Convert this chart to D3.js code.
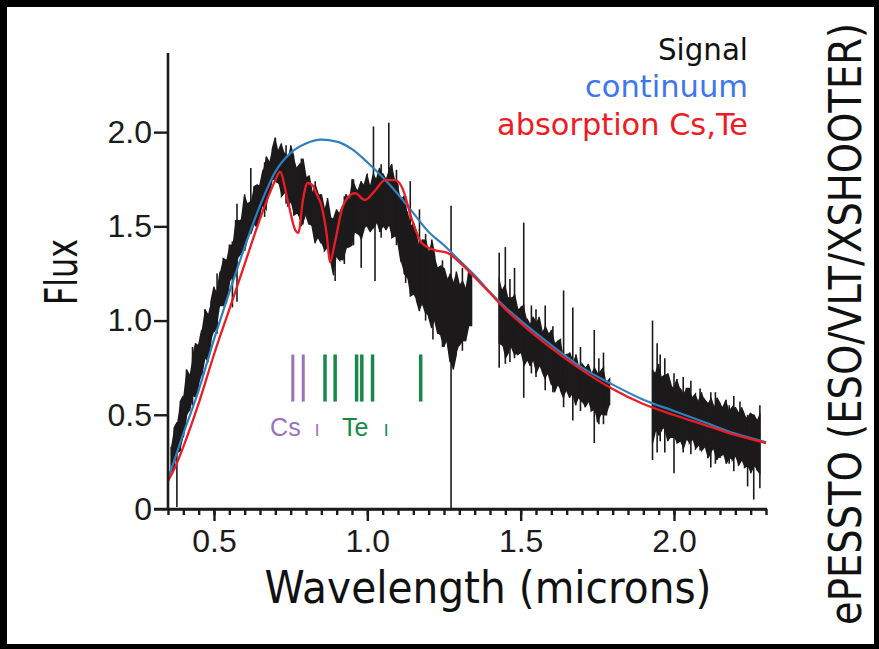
<!DOCTYPE html>
<html>
<head>
<meta charset="utf-8">
<script src="https://cdn.jsdelivr.net/npm/d3@7"></script>
<style>
  html, body { margin: 0; padding: 0; background: #000; }
  svg { display: block; }
</style>
</head>
<body>
<svg id="chart" width="879" height="649"></svg>
<script>
// ---- Observed spectrum: upper/lower envelope of the noisy signal, sampled every 0.01 micron ----
const sampleStep = 0.01;
const segStarts = [0.36, 1.43, 1.93];

const sig1Hi = [
  0.33,0.43,0.46,0.57,0.60,0.74,0.71,0.80,0.88,0.87,
  0.95,1.06,1.03,1.10,1.18,1.15,1.26,1.33,1.32,1.40,
  1.40,1.53,1.53,1.54,1.67,1.62,1.63,1.71,1.72,1.72,
  1.80,1.87,1.84,1.91,1.97,1.90,1.94,1.89,1.86,1.93,
  1.87,1.81,1.83,1.86,1.76,1.77,1.68,1.72,1.67,1.67,
  1.59,1.65,1.55,1.54,1.59,1.57,1.61,1.67,1.64,1.75,
  1.71,1.69,1.74,1.72,1.78,1.71,1.78,1.75,1.81,1.78,
  1.75,1.80,1.83,1.75,1.72,1.64,1.66,1.58,1.50,1.52,
  1.47,1.39,1.43,1.43,1.36,1.43,1.34,1.28,1.29,1.28,
  1.22,1.25,1.20,1.26,1.19,1.21,1.17,1.27,1.25
];
const sig1Lo = [
  0.20,0.21,0.30,0.31,0.38,0.49,0.52,0.60,0.59,0.66,
  0.71,0.80,0.78,0.89,0.94,0.97,1.08,1.08,1.09,1.20,
  1.23,1.24,1.34,1.36,1.37,1.45,1.46,1.51,1.49,1.56,
  1.61,1.59,1.67,1.75,1.74,1.73,1.66,1.68,1.61,1.63,
  1.56,1.57,1.54,1.51,1.56,1.51,1.50,1.41,1.44,1.41,
  1.37,1.39,1.32,1.24,1.34,1.32,1.32,1.38,1.39,1.40,
  1.47,1.46,1.43,1.49,1.50,1.47,1.49,1.52,1.47,1.50,
  1.48,1.51,1.44,1.45,1.41,1.31,1.25,1.23,1.13,1.14,
  1.11,1.05,1.09,1.04,1.02,0.96,1.00,0.93,0.92,0.86,
  0.89,0.78,0.74,0.82,0.87,0.89,0.89,0.97,0.97
];
const sig2Hi = [
  1.23,1.16,1.19,1.12,1.12,1.14,1.06,1.07,1.08,1.01,
  0.98,1.02,0.99,1.02,0.94,0.97,0.93,0.95,0.88,0.89,
  0.90,0.81,0.82,0.83,0.78,0.82,0.74,0.77,0.75,0.77,
  0.72,0.75,0.72,0.73,0.75,0.67,0.69
];
const sig2Lo = [
  0.88,0.87,0.80,0.83,0.86,0.82,0.82,0.83,0.76,0.79,
  0.76,0.79,0.72,0.76,0.73,0.69,0.72,0.66,0.62,0.66,
  0.63,0.59,0.63,0.59,0.61,0.55,0.59,0.57,0.54,0.57,
  0.52,0.53,0.46,0.50,0.50,0.50,0.55
];
const sig3Hi = [
  0.74,0.72,0.77,0.70,0.71,0.72,0.66,0.64,0.69,0.64,
  0.61,0.64,0.64,0.59,0.61,0.57,0.62,0.58,0.56,0.59,
  0.54,0.59,0.56,0.54,0.58,0.52,0.54,0.54,0.51,0.54,
  0.50,0.48,0.51,0.50,0.47,0.51
];
const sig3Lo = [
  0.35,0.42,0.39,0.42,0.43,0.36,0.38,0.38,0.35,0.36,
  0.32,0.37,0.35,0.37,0.32,0.34,0.31,0.33,0.27,0.30,
  0.32,0.26,0.28,0.29,0.24,0.27,0.26,0.28,0.23,0.26,
  0.22,0.23,0.19,0.23,0.21,0.19
];

// Narrow spikes in the signal: [wavelength, top, bottom]
const signalSpikes = [
  [0.379,0.30,0.01],[0.43,0.86,0.55],[0.51,1.25,0.93],[0.56,1.42,1.07],[0.575,1.62,1.10],
  [0.62,1.81,1.48],[0.665,1.84,1.55],[0.70,1.97,1.76],[0.735,1.93,1.62],[0.785,1.86,1.50],
  [0.83,1.74,1.42],[0.895,1.52,1.21],[0.925,1.66,1.30],[0.955,1.75,1.40],[0.98,1.60,1.28],
  [1.02,2.03,1.50],[1.025,1.72,1.21],[1.045,1.83,1.44],[1.07,2.05,1.50],[1.095,1.80,1.40],
  [1.125,1.66,1.20],[1.14,1.74,1.20],[1.17,1.59,1.10],[1.19,1.46,1.00],[1.214,1.36,0.90],
  [1.245,1.32,0.86],[1.273,1.61,0.0],[1.31,1.28,0.84],
  [1.43,1.36,0.75],[1.45,1.39,0.77],[1.465,1.22,0.78],[1.48,1.28,0.80],[1.51,1.52,0.59],
  [1.535,1.08,0.72],[1.55,1.06,0.70],[1.58,1.08,0.63],[1.605,0.97,0.62],[1.64,1.16,0.54],
  [1.67,1.07,0.47],[1.695,0.86,0.52],[1.74,0.95,0.35],[1.755,0.80,0.45],[1.77,0.83,0.45],
  [1.93,1.00,0.26],[1.945,0.88,0.30],[1.955,0.82,0.36],[1.97,0.80,0.30],[2.00,0.72,0.19],
  [2.03,0.70,0.30],[2.055,0.68,0.29],[2.085,0.64,0.31],[2.12,0.62,0.22],[2.135,0.62,0.24],
  [2.15,0.56,0.27],[2.18,0.55,0.24],[2.195,0.60,0.20],[2.215,0.57,0.25],[2.24,0.50,0.12],
  [2.26,0.50,0.05],[2.28,0.55,0.11]
];

// ---- Continuum model ----
const contWave = [0.35,0.40,0.45,0.50,0.55,0.60,0.65,0.70,0.75,0.80,0.85,0.90,0.95,1.00,1.05,1.10,
                  1.15,1.20,1.25,1.30,1.35,1.40,1.45,1.50,1.60,1.70,1.80,1.90,2.00,2.10,2.20,2.30];
const contFlux = [0.16,0.40,0.63,0.90,1.15,1.39,1.61,1.79,1.89,1.94,1.96,1.95,1.91,1.84,1.76,1.67,
                  1.57,1.47,1.40,1.32,1.24,1.15,1.07,1.00,0.87,0.75,0.66,0.58,0.52,0.46,0.40,0.355];

// ---- Continuum with Cs and Te absorption ----
const absWave = [0.35,0.375,0.40,0.45,0.50,0.55,0.60,0.65,0.68,0.70,0.715,0.74,0.765,0.775,0.79,0.805,
                 0.82,0.835,0.852,0.868,0.878,0.895,0.917,0.937,0.96,0.992,1.025,1.058,1.09,1.113,1.146,
                 1.178,1.22,1.263,1.30,1.35,1.40,1.45,1.50,1.60,1.70,1.80,1.90,2.00,2.10,2.20,2.30];
const absFlux = [0.149,0.228,0.33,0.56,0.82,1.06,1.30,1.54,1.67,1.745,1.79,1.64,1.48,1.465,1.64,1.73,
                 1.72,1.67,1.60,1.45,1.31,1.42,1.59,1.655,1.676,1.64,1.69,1.745,1.745,1.708,1.533,
                 1.41,1.374,1.358,1.31,1.23,1.146,1.061,0.987,0.854,0.737,0.637,0.557,0.499,0.446,0.393,0.350];

// ---- Line markers ----
const csLines = [0.757, 0.791];
const teLines = [0.862, 0.895, 0.965, 0.982, 1.017, 1.174];
const markerTop = 0.82, markerBottom = 0.57;
const lineLabels = ["Cs", "Te"];
const lineLabelWave = [0.683, 0.917];
const ionMarkWave = [0.836, 1.061];
const lineLabelFlux = 0.39;

// ---- Axes ----
const xMajorTicks = [0.5, 1.0, 1.5, 2.0];
const xTickLabels = ["0.5", "1.0", "1.5", "2.0"];
const xMinorStep = 0.05;
const yTicks = [0, 0.5, 1.0, 1.5, 2.0];
const yTickLabels = ["0", "0.5", "1.0", "1.5", "2.0"];

const legendItems = ["Signal", "continuum", "absorption Cs,Te"];

// ---------------- drawing ----------------
const W = 879, H = 649;
const ink = "#1c1a1b";
const blue = "#2f7fc1", red = "#ec1c24";
const csColor = "#9a72b8", teColor = "#17884a";
const titleFont = "'DejaVu Sans', 'Noto Sans', sans-serif";
const tickFont = "'Liberation Sans', Arial, sans-serif";

const svg = d3.select("#chart");
svg.append("rect").attr("width", W).attr("height", H).attr("fill", "#000");
svg.append("rect").attr("x", 7).attr("y", 7).attr("width", 867).attr("height", 637).attr("fill", "#fff");

const x = d3.scaleLinear().domain([0.35, 2.30]).range([168, 766]);
const y = d3.scaleLinear().domain([0, 2.42]).range([509, 53]);

// signal
const segHi = [sig1Hi, sig2Hi, sig3Hi];
const segLo = [sig1Lo, sig2Lo, sig3Lo];
const gSig = svg.append("g");
segStarts.forEach((s, k) => {
  const pts = segHi[k].map((h, i) => ({ w: s + i * sampleStep, hi: h, lo: segLo[k][i] }));
  gSig.append("path").datum(pts)
    .attr("d", d3.area().x(d => x(d.w)).y0(d => y(d.lo)).y1(d => y(d.hi)))
    .attr("fill", ink);
  const zig = pts.flatMap((d, i) => i % 2 ? [[d.w, d.lo], [d.w, d.hi]] : [[d.w, d.hi], [d.w, d.lo]]);
  gSig.append("path").datum(zig)
    .attr("d", d3.line().x(d => x(d[0])).y(d => y(d[1])))
    .attr("fill", "none").attr("stroke", ink).attr("stroke-width", 1.4);
});
gSig.selectAll("line.spike").data(signalSpikes).join("line")
  .attr("class", "spike")
  .attr("x1", d => x(d[0])).attr("x2", d => x(d[0]))
  .attr("y1", d => y(d[1])).attr("y2", d => y(d[2]))
  .attr("stroke", ink).attr("stroke-width", 1.6);

// continuum and absorption model
const lineGen = d3.line().curve(d3.curveMonotoneX);
svg.append("path")
  .attr("d", lineGen(contWave.map((w, i) => [x(w), y(contFlux[i])])))
  .attr("fill", "none").attr("stroke", blue).attr("stroke-width", 2.2);
svg.append("path")
  .attr("d", lineGen(absWave.map((w, i) => [x(w), y(absFlux[i])])))
  .attr("fill", "none").attr("stroke", red).attr("stroke-width", 2.3);

// Cs / Te line markers
svg.selectAll("line.cs").data(csLines).join("line").attr("class", "cs")
  .attr("x1", d => x(d)).attr("x2", d => x(d))
  .attr("y1", y(markerTop)).attr("y2", y(markerBottom))
  .attr("stroke", csColor).attr("stroke-width", 3);
svg.selectAll("line.te").data(teLines).join("line").attr("class", "te")
  .attr("x1", d => x(d)).attr("x2", d => x(d))
  .attr("y1", y(markerTop)).attr("y2", y(markerBottom))
  .attr("stroke", teColor).attr("stroke-width", 3.5);
const labelColors = [csColor, teColor];
lineLabels.forEach((t, i) => {
  svg.append("text").attr("x", x(lineLabelWave[i])).attr("y", y(lineLabelFlux))
    .attr("font-family", tickFont).attr("font-size", 25).attr("fill", labelColors[i]).text(t);
  svg.append("text").attr("x", x(ionMarkWave[i])).attr("y", y(lineLabelFlux))
    .attr("text-anchor", "middle")
    .attr("font-family", tickFont).attr("font-size", 17).attr("fill", labelColors[i]).text("I");
});

// axes
const minorTicks = d3.range(0, 40).map(i => +(0.35 + i * xMinorStep).toFixed(2));
const gxMinor = svg.append("g").attr("transform", `translate(0,${y(0)})`)
  .call(d3.axisBottom(x).tickValues(minorTicks).tickSize(6).tickSizeOuter(0).tickFormat(""));
const gxMajor = svg.append("g").attr("transform", `translate(0,${y(0)})`)
  .call(d3.axisBottom(x).tickValues(xMajorTicks).tickSize(12).tickSizeOuter(0).tickPadding(8)
    .tickFormat((d, i) => xTickLabels[i]));
const gy = svg.append("g").attr("transform", `translate(${x(0.35)},0)`)
  .call(d3.axisLeft(y).tickValues(yTicks).tickSize(14).tickSizeOuter(0).tickPadding(2)
    .tickFormat((d, i) => yTickLabels[i]));
gy.select(".domain").attr("d", `M0,${y(0)}V${y(2.42)}`);
[gxMinor, gxMajor, gy].forEach(g => {
  g.selectAll("path.domain").attr("stroke", ink).attr("stroke-width", 2.6);
  g.selectAll(".tick line").attr("stroke", ink).attr("stroke-width", 2.4);
  g.selectAll(".tick text").attr("font-family", tickFont).attr("font-size", 32).attr("fill", ink);
});
gxMajor.select(".domain").attr("d", `M${x(0.35) - 14},0H${x(2.30) + 1}`);

// legend text
const legendColors = ["#111111", "#3f76eb", "#f01a22"];
const legendY = [60, 97, 135];
const legendLen = [90, 163, 251];
legendItems.forEach((t, i) => {
  svg.append("text").attr("x", 748).attr("y", legendY[i]).attr("text-anchor", "end")
    .attr("font-family", titleFont).attr("font-size", 31).attr("fill", legendColors[i])
    .attr("textLength", legendLen[i]).attr("lengthAdjust", "spacingAndGlyphs").text(t);
});

// axis titles
svg.append("text").attr("transform", "translate(77,272) rotate(-90)")
  .attr("text-anchor", "middle").attr("font-family", titleFont).attr("font-size", 44)
  .attr("fill", "#111").attr("textLength", 66).attr("lengthAdjust", "spacingAndGlyphs").text("Flux");
svg.append("text").attr("x", 488).attr("y", 603)
  .attr("text-anchor", "middle").attr("font-family", titleFont).attr("font-size", 44)
  .attr("fill", "#111").attr("textLength", 447).attr("lengthAdjust", "spacingAndGlyphs")
  .text("Wavelength (microns)");
// instrument credit, set vertically along the right edge
svg.append("text").attr("transform", "translate(861,324) rotate(-90) scale(1,1.15)")
  .attr("text-anchor", "middle").attr("font-family", titleFont).attr("font-size", 38.5)
  .attr("fill", "#111")
  .text("ePESSTO (ESO/VLT/XSHOOTER)");
</script>
</body>
</html>
